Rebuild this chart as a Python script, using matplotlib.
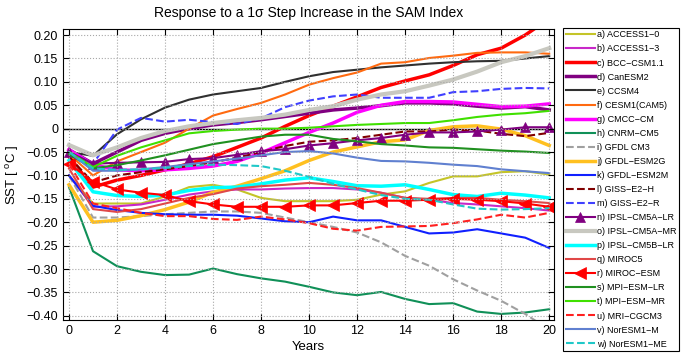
import matplotlib
matplotlib.use("Agg")
import matplotlib.pyplot as plt
import numpy as np

plt.rcParams['font.family'] = ['Liberation Sans', 'DejaVu Sans']
plt.rcParams['mathtext.fontset'] = 'custom'
plt.rcParams['mathtext.rm'] = 'Liberation Sans'

years = list(range(21))

a_access10 = [-0.100, -0.160, -0.160, -0.160, -0.145, -0.125, -0.120, -0.130, -0.148, -0.155, -0.155,
              -0.155, -0.152, -0.141, -0.134, -0.116, -0.102, -0.102, -0.093, -0.091, -0.098]
b_access13 = [-0.100, -0.167, -0.166, -0.162, -0.152, -0.141, -0.134, -0.130, -0.130, -0.128, -0.127,
              -0.127, -0.130, -0.137, -0.148, -0.152, -0.159, -0.162, -0.166, -0.170, -0.175]
c_bcc = [-0.060, -0.125, -0.110, -0.100, -0.088, -0.075, -0.060, -0.040, -0.020, 0.005, 0.028,
         0.048, 0.068, 0.088, 0.102, 0.115, 0.135, 0.158, 0.172, 0.200, 0.235]
d_canesm2 = [-0.045, -0.075, -0.050, -0.025, -0.010, 0.000, 0.008, 0.013, 0.019, 0.026, 0.033,
             0.040, 0.044, 0.049, 0.055, 0.055, 0.053, 0.048, 0.044, 0.047, 0.040]
e_ccsm4 = [-0.050, -0.058, -0.012, 0.020, 0.045, 0.062, 0.073, 0.080, 0.087, 0.100, 0.112,
           0.121, 0.126, 0.131, 0.135, 0.139, 0.142, 0.144, 0.145, 0.150, 0.155]
f_cesm1 = [-0.055, -0.100, -0.070, -0.050, -0.030, 0.000, 0.028, 0.042, 0.055, 0.073, 0.094,
           0.108, 0.120, 0.139, 0.142, 0.151, 0.156, 0.162, 0.163, 0.163, 0.160]
g_cmcc = [-0.045, -0.077, -0.088, -0.090, -0.088, -0.085, -0.080, -0.070, -0.052, -0.030, -0.008,
          0.012, 0.035, 0.050, 0.058, 0.058, 0.057, 0.052, 0.047, 0.048, 0.053]
h_cnrm = [-0.125, -0.262, -0.294, -0.306, -0.313, -0.312, -0.299, -0.311, -0.320, -0.327, -0.338,
          -0.350, -0.356, -0.349, -0.364, -0.375, -0.373, -0.391, -0.396, -0.393, -0.386]
i_gfdlcm3 = [-0.100, -0.190, -0.190, -0.187, -0.183, -0.180, -0.177, -0.177, -0.180, -0.190, -0.200,
             -0.210, -0.222, -0.243, -0.272, -0.293, -0.322, -0.346, -0.368, -0.396, -0.430]
j_gfdlesm2g = [-0.120, -0.200, -0.196, -0.186, -0.173, -0.157, -0.136, -0.123, -0.107, -0.090, -0.068,
               -0.050, -0.039, -0.028, -0.024, -0.004, 0.004, 0.006, -0.001, -0.015, -0.036]
k_gfdlesm2m = [-0.100, -0.165, -0.174, -0.180, -0.183, -0.184, -0.184, -0.186, -0.192, -0.198, -0.200,
               -0.188, -0.196, -0.196, -0.210, -0.224, -0.222, -0.215, -0.224, -0.233, -0.255]
l_gisse2h = [-0.060, -0.115, -0.100, -0.093, -0.087, -0.080, -0.072, -0.062, -0.050, -0.037, -0.028,
             -0.025, -0.020, -0.013, -0.006, -0.006, -0.002, -0.004, -0.011, -0.016, -0.009]
m_gisse2r = [-0.050, -0.075, -0.002, 0.023, 0.015, 0.019, 0.014, 0.010, 0.022, 0.046, 0.060,
             0.069, 0.073, 0.066, 0.066, 0.066, 0.078, 0.080, 0.085, 0.087, 0.086]
n_ipslalr = [-0.050, -0.075, -0.073, -0.072, -0.071, -0.065, -0.063, -0.056, -0.048, -0.044, -0.036,
             -0.031, -0.025, -0.020, -0.013, -0.008, -0.008, -0.006, -0.002, 0.003, 0.003]
o_ipslamr = [-0.035, -0.057, -0.040, -0.020, -0.005, 0.005, 0.012, 0.018, 0.023, 0.030, 0.040,
             0.048, 0.062, 0.073, 0.080, 0.092, 0.105, 0.122, 0.142, 0.155, 0.172]
p_ipslblr = [-0.068, -0.135, -0.143, -0.145, -0.142, -0.132, -0.126, -0.125, -0.118, -0.110, -0.105,
             -0.113, -0.122, -0.123, -0.120, -0.130, -0.141, -0.145, -0.138, -0.142, -0.148]
q_miroc5 = [-0.085, -0.172, -0.178, -0.172, -0.160, -0.148, -0.140, -0.128, -0.123, -0.120, -0.116,
            -0.120, -0.127, -0.137, -0.148, -0.150, -0.148, -0.148, -0.152, -0.155, -0.159]
r_mirocesm = [-0.075, -0.113, -0.130, -0.137, -0.142, -0.155, -0.162, -0.167, -0.167, -0.167, -0.164,
              -0.164, -0.159, -0.154, -0.154, -0.152, -0.150, -0.152, -0.155, -0.160, -0.167]
s_mpilr = [-0.055, -0.085, -0.078, -0.068, -0.057, -0.045, -0.033, -0.025, -0.017, -0.013, -0.013,
           -0.022, -0.027, -0.033, -0.036, -0.040, -0.041, -0.044, -0.047, -0.049, -0.052]
t_mpimr = [-0.050, -0.082, -0.058, -0.040, -0.025, -0.010, -0.005, -0.002, 0.000, 0.000, 0.002,
           0.005, 0.008, 0.010, 0.012, 0.012, 0.018, 0.025, 0.030, 0.033, 0.038]
u_mri = [-0.075, -0.160, -0.170, -0.180, -0.187, -0.187, -0.193, -0.195, -0.188, -0.194, -0.202,
         -0.214, -0.218, -0.210, -0.209, -0.208, -0.202, -0.194, -0.184, -0.190, -0.180]
v_noresm1m = [-0.050, -0.090, -0.090, -0.087, -0.082, -0.076, -0.070, -0.064, -0.057, -0.050, -0.048,
              -0.053, -0.062, -0.069, -0.070, -0.073, -0.077, -0.080, -0.087, -0.091, -0.095]
w_noresm1me = [-0.050, -0.085, -0.088, -0.087, -0.084, -0.080, -0.077, -0.078, -0.080, -0.090, -0.103,
               -0.118, -0.130, -0.142, -0.150, -0.152, -0.162, -0.171, -0.173, -0.172, -0.170]

labels = ["a) ACCESS1\u22120", "b) ACCESS1\u22123", "c) BCC\u2212CSM1.1", "d) CanESM2", "e) CCSM4",
          "f) CESM1(CAM5)", "g) CMCC\u2212CM", "h) CNRM\u2212CM5", "i) GFDL CM3", "j) GFDL\u2212ESM2G",
          "k) GFDL\u2212ESM2M", "l) GISS\u2212E2\u2212H", "m) GISS\u2212E2\u2212R", "n) IPSL\u2212CM5A\u2212LR",
          "o) IPSL\u2212CM5A\u2212MR", "p) IPSL\u2212CM5B\u2212LR", "q) MIROC5", "r) MIROC\u2212ESM",
          "s) MPI\u2212ESM\u2212LR", "t) MPI\u2212ESM\u2212MR", "u) MRI\u2212CGCM3", "v) NorESM1\u2212M",
          "w) NorESM1\u2212ME"]
series = [a_access10, b_access13, c_bcc, d_canesm2, e_ccsm4, f_cesm1, g_cmcc, h_cnrm, i_gfdlcm3,
          j_gfdlesm2g, k_gfdlesm2m, l_gisse2h, m_gisse2r, n_ipslalr, o_ipslamr, p_ipslblr, q_miroc5,
          r_mirocesm, s_mpilr, t_mpimr, u_mri, v_noresm1m, w_noresm1me]

styles = [
    dict(color='#c4c428', lw=1.5, ls='-'),
    dict(color='#c828c8', lw=1.5, ls='-'),
    dict(color='#ff0000', lw=2.5, ls='-'),
    dict(color='#800080', lw=2.5, ls='-'),
    dict(color='#303030', lw=1.5, ls='-'),
    dict(color='#ff6a10', lw=1.5, ls='-'),
    dict(color='#ff00ff', lw=2.5, ls='-'),
    dict(color='#109058', lw=1.5, ls='-'),
    dict(color='#a0a0a0', lw=1.5, ls='--'),
    dict(color='#ffc020', lw=2.5, ls='-'),
    dict(color='#1020ff', lw=1.5, ls='-'),
    dict(color='#800000', lw=1.5, ls='--'),
    dict(color='#4040ff', lw=1.5, ls='--'),
    dict(color='#800080', lw=1.5, ls='-', marker='^', ms=7),
    dict(color='#c8c8c0', lw=3.0, ls='-'),
    dict(color='#00ffff', lw=2.5, ls='-'),
    dict(color='#e04848', lw=1.5, ls='-'),
    dict(color='#ff0000', lw=1.5, ls='-', marker='<', ms=8),
    dict(color='#209020', lw=1.5, ls='-'),
    dict(color='#40e000', lw=1.5, ls='-'),
    dict(color='#ff2020', lw=1.5, ls='--'),
    dict(color='#6080d0', lw=1.5, ls='-'),
    dict(color='#20c8c8', lw=1.5, ls='--'),
]

xticks = list(range(0, 21, 2))
yticks = [0.20, 0.15, 0.10, 0.05, 0.0, -0.05, -0.10, -0.15, -0.20, -0.25, -0.30, -0.35, -0.40]
ytick_labels = ["0.20", "0.15", "0.10", "0.05", "0", "\u22120.05", "\u22120.10", "\u22120.15",
                "\u22120.20", "\u22120.25", "\u22120.30", "\u22120.35", "\u22120.40"]

fig = plt.figure(figsize=(6.85, 3.55), dpi=100)
ax = fig.add_axes([63/685, 1-320/355, (554-63)/685, (320-29)/355])

ax.axhline(0, color='black', lw=1.0, zorder=1)
for ys, lab, st in zip(series, labels, styles):
    st = dict(st)
    ax.plot(years, ys, label=lab, color=st.pop('color'), linewidth=st.pop('lw'),
            linestyle=st.pop('ls'), markeredgewidth=0.5, **st)

ax.set_xlim(-0.25, 20.2)
ax.set_ylim(-0.409, 0.213)
ax.set_xticks(xticks)
ax.set_yticks(yticks)
ax.set_yticklabels(ytick_labels)
ax.grid(True, linestyle=':', color='#a8a8a8', linewidth=0.8)
ax.tick_params(direction='in', top=True, right=True, length=4, labelsize=9, width=0.8)
for sp in ax.spines.values():
    sp.set_linewidth(0.8)
ax.set_axisbelow(False)

ax.set_title("Response to a 1\u03c3 Step Increase in the SAM Index", fontsize=10, pad=9)
ax.set_xlabel("Years", fontsize=9.5, labelpad=3)
ax.set_ylabel("SST [ $^{\\mathrm{o}}$C ]", fontsize=9.5, labelpad=4)

leg = fig.legend(loc='upper left', bbox_to_anchor=(563/685, 1-27.7/355), fontsize=6.5,
                 handlelength=3.2, labelspacing=0.56, borderpad=0.3, handletextpad=0.25,
                 borderaxespad=0, fancybox=False, framealpha=1, edgecolor='black', numpoints=1)
leg.get_frame().set_linewidth(0.8)

fig.savefig("out.png", dpi=100)
